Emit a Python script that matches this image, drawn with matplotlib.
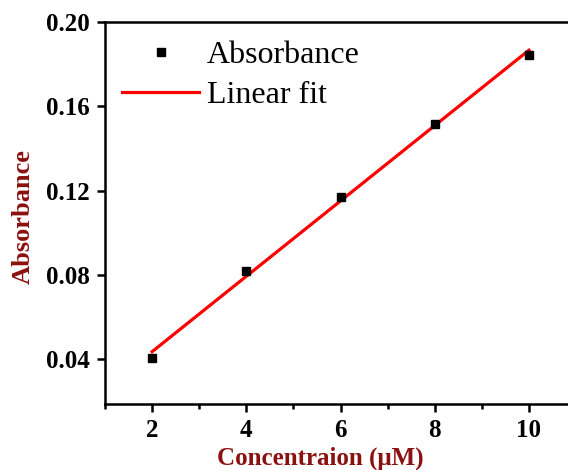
import numpy as np
import matplotlib
matplotlib.use("Agg")
import matplotlib.pyplot as plt
from matplotlib.ticker import MultipleLocator

conc = [2, 4, 6, 8, 10]
absorb = [0.0405, 0.082, 0.117, 0.1517, 0.1844]
xticks = [2, 4, 6, 8, 10]
yticks = [0.04, 0.08, 0.12, 0.16, 0.20]

plt.rcParams['font.family'] = ['Liberation Serif', 'DejaVu Serif']

fig = plt.figure(figsize=(5.68, 4.70), dpi=100)
ax = fig.add_axes([105/568, 66/470, 471/568, 382/470])

slope, intercept = np.polyfit(conc, absorb, 1)
xf = np.array([conc[0], conc[-1]])
ax.plot(conc, absorb, 's', color='black', markersize=6, label='Absorbance', zorder=3)
ax.plot(xf, slope*xf + intercept, '-', color='red', lw=2.3, label='Linear fit', zorder=2)

ax.set_xlim(1, 11)
ax.set_ylim(0.0188, 0.20)
ax.set_xticks(xticks)
ax.set_yticks(yticks)
ax.set_yticklabels(['%.2f' % v for v in yticks])
ax.xaxis.set_minor_locator(MultipleLocator(1))
for lab in ax.get_xticklabels() + ax.get_yticklabels():
    lab.set_fontweight('bold')
ax.tick_params(axis='both', which='major', direction='out', length=6, width=1.8, labelsize=18, pad=5)
ax.tick_params(axis='x', which='minor', direction='out', length=3.5, width=1.8)
for s in ax.spines.values():
    s.set_linewidth(1.8)

label_color = '#8B1010'
ax.set_xlabel('Concentraion (μM)', fontsize=18, fontweight='bold', color=label_color)
ax.set_ylabel('Absorbance', fontsize=19, fontweight='bold', color=label_color)
ax.xaxis.set_label_coords(0.457, -0.112)
ax.yaxis.set_label_coords(-0.1495, 0.49)

leg = ax.legend(loc='upper left', bbox_to_anchor=(0.01, 0.985), frameon=False, fontsize=23,
                handlelength=2.4, handletextpad=0.25, labelspacing=0.35, borderaxespad=0)

fig.savefig('out.png', dpi=100)
